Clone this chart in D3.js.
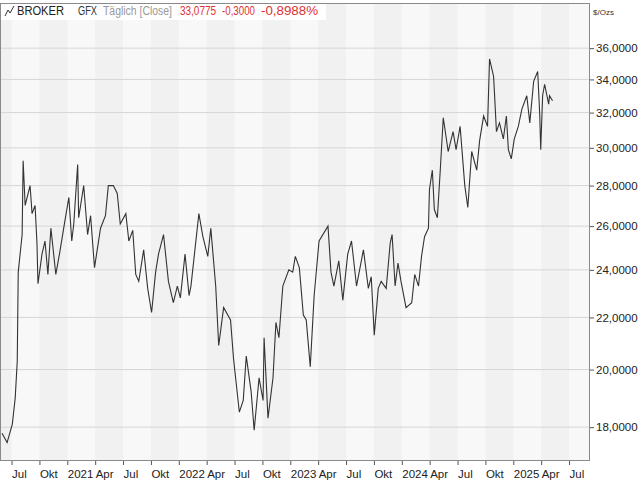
<!DOCTYPE html>
<html><head><meta charset="utf-8">
<script src="https://cdn.jsdelivr.net/npm/d3@7"></script>
<style>body{margin:0;background:#fff}svg{display:block}text{font-family:"Liberation Sans",Arial,sans-serif}</style>
</head><body><svg id="c" width="640" height="480"></svg>
<script>
const times=[2020.415,2020.46,2020.507,2020.533,2020.551,2020.56,2020.595,2020.604,2020.622,2020.666,2020.684,2020.711,2020.728,2020.737,2020.773,2020.8,2020.826,2020.853,2020.897,2020.933,2020.977,2021.014,2021.04,2021.058,2021.093,2021.102,2021.147,2021.182,2021.209,2021.244,2021.298,2021.342,2021.368,2021.413,2021.448,2021.475,2021.525,2021.552,2021.587,2021.614,2021.641,2021.685,2021.721,2021.756,2021.792,2021.818,2021.863,2021.907,2021.951,2021.987,2022.014,2022.056,2022.092,2022.109,2022.18,2022.216,2022.26,2022.287,2022.331,2022.358,2022.402,2022.464,2022.491,2022.543,2022.578,2022.605,2022.649,2022.676,2022.72,2022.756,2022.765,2022.8,2022.845,2022.871,2022.898,2022.933,2022.987,2023.022,2023.045,2023.081,2023.117,2023.143,2023.179,2023.214,2023.258,2023.338,2023.365,2023.391,2023.435,2023.471,2023.515,2023.549,2023.594,2023.656,2023.7,2023.726,2023.753,2023.789,2023.815,2023.86,2023.896,2023.913,2023.94,2023.966,2023.993,2024.038,2024.089,2024.116,2024.15,2024.177,2024.204,2024.239,2024.248,2024.274,2024.292,2024.319,2024.345,2024.372,2024.416,2024.46,2024.487,2024.523,2024.565,2024.592,2024.627,2024.672,2024.698,2024.734,2024.769,2024.787,2024.823,2024.831,2024.849,2024.876,2024.911,2024.938,2024.956,2024.982,2025.009,2025.045,2025.077,2025.121,2025.148,2025.183,2025.219,2025.237,2025.246,2025.263,2025.281,2025.317,2025.325,2025.352];
const prices=[17.8,17.5,18.1,19.0,20.3,23.9,25.6,29.3,27.0,28.0,26.6,27.0,25.2,23.4,24.7,25.3,23.8,25.9,23.8,24.8,26.2,27.4,25.3,26.1,29.1,26.4,28.0,25.6,26.5,24.1,25.9,26.5,28.0,28.0,27.6,26.1,26.6,25.3,25.8,23.8,23.5,24.9,23.2,22.2,23.9,24.7,25.6,23.5,22.6,23.3,22.8,24.7,22.9,23.3,26.6,25.5,24.6,25.9,23.3,20.9,22.4,21.9,20.4,18.5,18.9,20.5,19.2,17.9,19.7,18.9,21.2,18.3,19.7,21.8,21.2,23.3,24.0,23.9,24.6,24.1,22.1,21.9,20.1,22.9,25.3,26.0,23.9,23.3,24.4,22.7,24.7,25.3,23.3,24.9,23.2,23.7,21.3,23.2,23.5,23.2,25.2,25.6,23.3,24.3,23.5,22.4,22.6,23.8,23.3,24.6,25.5,25.9,27.8,28.8,26.8,26.4,28.8,31.7,29.8,30.9,29.9,31.2,28.0,26.9,29.8,28.8,30.4,31.8,31.2,35.3,34.2,33.2,30.9,31.4,30.5,31.8,29.9,29.4,30.5,31.2,32.2,33.0,31.4,33.9,34.5,31.9,29.9,33.0,33.7,32.5,33.0,32.7];
const yTicks=[18,20,22,24,26,28,30,32,34,36];
const qStarts=[2020.25,2020.5,2020.75,2021,2021.25,2021.5,2021.75,2022,2022.25,2022.5,2022.75,2023,2023.25,2023.5,2023.75,2024,2024.25,2024.5,2024.75,2025,2025.25,2025.5,2025.75];
const qLabels=["","Jul","Okt","2021","Apr","Jul","Okt","2022","Apr","Jul","Okt","2023","Apr","Jul","Okt","2024","Apr","Jul","Okt","2025","Apr","Jul",""];

const svg=d3.select("#c");
const L=0,R=590,T=3,B=461;
const x=d3.scaleLinear().domain([2020.3964,2025.688]).range([L,R]);
const y=d3.scaleLog().domain([16.92,39.1]).range([B,T]);
svg.append("clipPath").attr("id","cp").append("rect").attr("x",L).attr("y",T).attr("width",R-L).attr("height",B-T);
const g=svg.append("g").attr("clip-path","url(#cp)");
g.append("rect").attr("x",L).attr("y",T).attr("width",R-L).attr("height",B-T).attr("fill","#f8f8f8");
qStarts.forEach((q,i)=>{ if(i%2===0) g.append("rect").attr("x",x(q)).attr("y",T).attr("width",x(q+0.25)-x(q)).attr("height",B-T).attr("fill","#f1f1f1");});
g.selectAll(".gl").data(yTicks).enter().append("line").attr("x1",L).attr("x2",R).attr("y1",d=>y(d)).attr("y2",d=>y(d)).attr("stroke","#d6d6d6");
const line=d3.line().x((d,i)=>x(times[i])).y(d=>y(d));
g.append("path").datum(prices).attr("d",line).attr("fill","none").attr("stroke","#333").attr("stroke-width",1.1);
svg.append("rect").attr("x",L+0.5).attr("y",T+0.5).attr("width",R-L-1).attr("height",B-T-1).attr("fill","none").attr("stroke","#8a8a8a");
const ya=svg.append("g").attr("transform",`translate(${R},0)`).call(d3.axisRight(y).tickValues(yTicks).tickSize(4).tickFormat(d=>d3.format(".4f")(d).replace(".",",")));
ya.select(".domain").remove();
ya.selectAll("text").attr("font-size",11.5).attr("fill","#222").attr("x",6);
ya.selectAll("line").attr("stroke","#555");
svg.append("text").attr("x",593).attr("y",15).attr("font-size",8).attr("fill","#333").text("$/Ozs");
const xa=svg.append("g").attr("transform",`translate(0,${B})`).call(d3.axisBottom(x).tickValues(qStarts.filter(q=>x(q)>2&&x(q)<R-2)).tickSize(4).tickFormat(d=>qLabels[qStarts.indexOf(d)]));
xa.select(".domain").remove();
xa.selectAll("line").attr("stroke","#555");
xa.selectAll("text").attr("font-size",11.5).attr("fill","#222").attr("text-anchor","start").attr("x",0).attr("dy","0.85em");
svg.append("rect").attr("x",1).attr("y",T+1).attr("width",325).attr("height",16).attr("fill","#fff").attr("opacity",0.9);
svg.append("path").attr("d","M5,16 L8,10 L10,13 L14,6").attr("fill","none").attr("stroke","#333");
const hy=15;
const ht=(x0,w,col,s)=>svg.append("text").attr("x",x0).attr("y",hy).attr("font-size",12).attr("fill",col).attr("textLength",w).attr("lengthAdjust","spacingAndGlyphs").text(s);
ht(17,47,"#222","BROKER");
ht(78,19,"#333","GFX");
ht(103,69,"#999","Täglich [Close]");
ht(180,36,"#e03030","33,0775");
ht(222,33,"#e03030","-0,3000");
ht(261,57,"#e03030","-0,8988%");
</script></body></html>
